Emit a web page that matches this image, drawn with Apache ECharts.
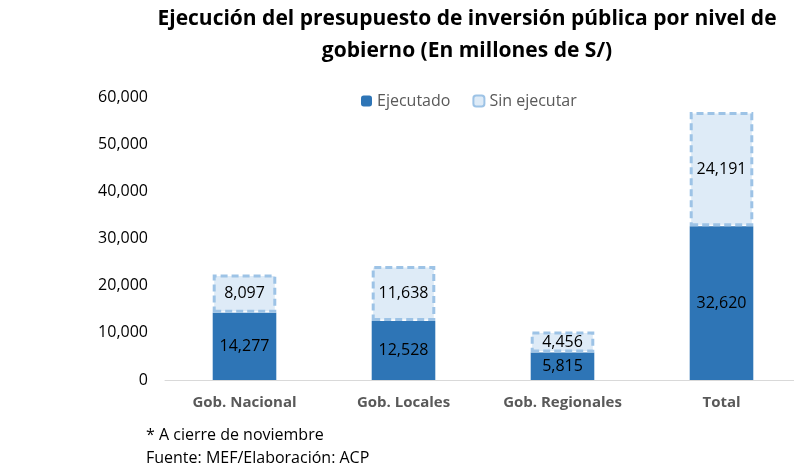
<!DOCTYPE html>
<html lang="es">
<head>
  <meta charset="UTF-8">
  <title>Ejecución del presupuesto de inversión pública</title>
  <script src="https://cdn.jsdelivr.net/npm/echarts@6/dist/echarts.min.js"></script>
  <style>
    html, body { margin: 0; padding: 0; background: #fff; overflow: hidden; }
    #chart { width: 810px; height: 469px; }
  </style>
</head>
<body>
<div id="chart"></div>
<script>
  // datos
  var categorias = ["Gob. Nacional", "Gob. Locales", "Gob. Regionales", "Total"];
  var ejecutado = [14277, 12528, 5815, 32620];
  var sinEjecutar = [8097, 11638, 4456, 24191];

  var fuente = "Open Sans";
  var chart = echarts.init(document.getElementById('chart'));

  function fmt(v) {
    return v.toString().replace(/\B(?=(\d{3})+(?!\d))/g, ",");
  }

  chart.setOption({
    animation: false,
    textStyle: { fontFamily: fuente },
    title: {
      text: "Ejecución del presupuesto de inversión pública por nivel de\ngobierno (En millones de S/)",
      left: 462,
      textAlign: 'center',
      top: -2,
      textStyle: { fontSize: 21, fontWeight: 'bold', color: '#000', lineHeight: 32 }
    },
    legend: {
      top: 88,
      left: 356,
      itemWidth: 11,
      itemHeight: 11,
      itemGap: 22,
      textStyle: { fontSize: 16, color: '#595959' },
      data: ["Ejecutado", "Sin ejecutar"]
    },
    graphic: [
      { type: 'text', left: 146, top: 427, style: { text: "* A cierre de noviembre", font: '16px "Open Sans"', fill: '#000' } },
      { type: 'text', left: 146, top: 450, style: { text: "Fuente: MEF/Elaboración: ACP", font: '16px "Open Sans"', fill: '#000' } }
    ],
    grid: { left: 165, top: 97, width: 636, height: 283, containLabel: false },
    xAxis: {
      type: 'category',
      data: categorias,
      axisTick: { show: false },
      axisLine: { lineStyle: { color: '#d9d9d9', width: 1 } },
      axisLabel: { fontSize: 15, fontWeight: 'bold', color: '#595959', margin: 15 }
    },
    yAxis: {
      type: 'value',
      min: 0,
      max: 60000,
      interval: 10000,
      splitLine: { show: false },
      axisLine: { show: false },
      axisTick: { show: false },
      axisLabel: { fontSize: 16, color: '#000', margin: 17, formatter: function (v) { return fmt(v); } }
    },
    series: [
      {
        name: "Ejecutado",
        type: 'bar',
        stack: 'total',
        barWidth: '40%',
        data: ejecutado,
        itemStyle: { color: '#2e75b6' },
        label: { show: true, position: 'inside', fontSize: 16, color: '#000', formatter: function (p) { return fmt(p.value); } }
      },
      {
        name: "Sin ejecutar",
        type: 'bar',
        stack: 'total',
        barWidth: '40%',
        data: sinEjecutar,
        itemStyle: { color: '#deebf7', borderColor: '#9dc3e6', borderWidth: 3, borderType: [7, 4] },
        label: { show: true, position: 'inside', fontSize: 16, color: '#000', formatter: function (p) { return fmt(p.value); } }
      }
    ]
  });
</script>
</body>
</html>
